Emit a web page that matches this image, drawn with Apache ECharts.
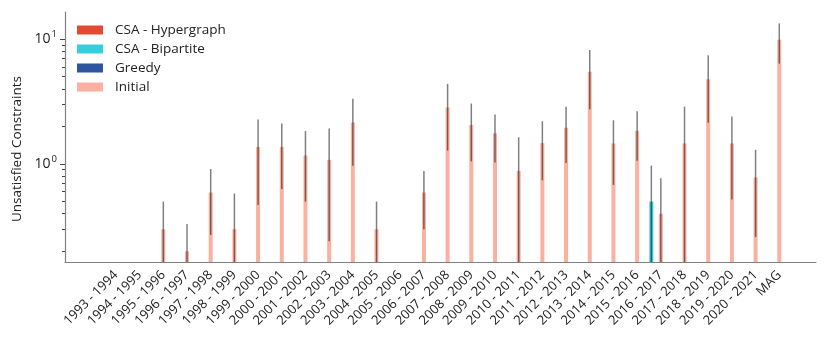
<!DOCTYPE html>
<html><head><meta charset="utf-8">
<script src="https://cdn.jsdelivr.net/npm/echarts@6/dist/echarts.min.js"></script>
<style>html,body{margin:0;padding:0;background:#fff}#c{width:830px;height:340px}</style>
</head><body><div id="c"></div>
<script>
const categories = ['1993 - 1994','1994 - 1995','1995 - 1996','1996 - 1997','1997 - 1998','1998 - 1999','1999 - 2000','2000 - 2001','2001 - 2002','2002 - 2003','2003 - 2004','2004 - 2005','2005 - 2006','2006 - 2007','2007 - 2008','2008 - 2009','2009 - 2010','2010 - 2011','2011 - 2012','2012 - 2013','2013 - 2014','2014 - 2015','2015 - 2016','2016 - 2017','2017 - 2018','2018 - 2019','2019 - 2020','2020 - 2021','MAG'];
const hypergraphMean = [0,0,0,0,0,0,0,0,0,0,0,0,0,0,0,0,0,0,0,0,0,0,0,0,0,0,0,0,0];
const hypergraphStd  = [0,0,0,0,0,0,0,0,0,0,0,0,0,0,0,0,0,0,0,0,0,0,0,0,0,0,0,0,0];
const bipartiteMean  = [0,0,0,0,0,0,0,0,0,0,0,0,0,0,0,0,0,0,0,0,0,0,0,0.5,0,0,0,0,0];
const bipartiteStd   = [0,0,0,0,0,0,0,0,0,0,0,0,0,0,0,0,0,0,0,0,0,0,0,0.47,0,0,0,0,0];
const greedyMean     = [0,0,0,0,0,0,0,0,0,0,0,0,0,0,0,0,0,0,0,0,0,0,0,0,0,0,0,0,0];
const greedyStd      = [0,0,0,0,0,0,0,0,0,0,0,0,0,0,0,0,0,0,0,0,0,0,0,0,0,0,0,0,0];
const initialMean = [0,0,0.3,0.2,0.59,0.3,1.37,1.37,1.17,1.08,2.15,0.3,0,0.59,2.83,2.05,1.76,0.88,1.47,1.95,5.47,1.46,1.85,0.4,1.46,4.78,1.46,0.78,9.87];
const initialStd  = [0,0,0.2,0.13,0.32,0.28,0.9,0.74,0.67,0.84,1.18,0.2,0,0.29,1.55,1.0,0.73,0.76,0.73,0.93,2.72,0.78,0.79,0.37,1.42,2.64,0.94,0.52,3.5];
const yMajorTicks = [1, 10];
const yMinorTicks = [0.2,0.3,0.4,0.5,0.6,0.7,0.8,0.9,2,3,4,5,6,7,8,9];
const Y_MIN = 0.164, Y_MAX = 16.5;

const seriesDefs = [
  {name:'CSA - Hypergraph', mean:hypergraphMean, std:hypergraphStd, color:'#E34A33', offset:-0.6},
  {name:'CSA - Bipartite',  mean:bipartiteMean,  std:bipartiteStd,  color:'#34CEDD', offset:-0.4},
  {name:'Greedy',           mean:greedyMean,     std:greedyStd,     color:'#2D55A0', offset:-0.2},
  {name:'Initial',          mean:initialMean,    std:initialStd,    color:'#FCB0A0', offset:0}
];

const series = [];
seriesDefs.forEach(d => {
  series.push({
    name: d.name, type: 'bar', barWidth: 4, barGap: '-100%',
    itemStyle: {color: d.color},
    data: d.mean.map((v,i) => v > 0 ? [i + d.offset, v] : [i + d.offset, null]),
    z: 2
  });
});
seriesDefs.forEach(d => {
  const errData = [];
  d.mean.forEach((v,i) => {
    if (v > 0) errData.push([i + d.offset, Math.max(v - d.std[i], Y_MIN), v + d.std[i]]);
  });
  series.push({
    type: 'custom', silent: true, z: 3,
    data: errData,
    renderItem: (params, api) => {
      const p1 = api.coord([api.value(0), api.value(2)]);
      const p2 = api.coord([api.value(0), api.value(1)]);
      return {type:'line', shape:{x1:p1[0], y1:p1[1], x2:p2[0], y2:p2[1]},
        style:{stroke:'rgba(0,0,0,0.5)', lineWidth:1.5}};
    }
  });
});

const chart = echarts.init(document.getElementById('c'), null, {renderer:'canvas'});
chart.setOption({
  animation: false,
  textStyle: {fontFamily: 'Open Sans'},
  grid: {left: 65, right: 14, top: 12, bottom: 78},
  legend: {
    orient: 'vertical', left: 72, top: 18, itemWidth: 26, itemHeight: 9, itemGap: 5,
    icon: 'rect', data: seriesDefs.map(d => d.name),
    textStyle: {fontSize: 13.5, color: '#222', fontFamily: 'Open Sans', padding: [0,0,0,7]}
  },
  xAxis: {
    type: 'value', min: -2.15, max: 29.55,
    splitLine: {show: false},
    axisLine: {onZero: false, lineStyle: {color: '#808080', width: 1.2}},
    axisTick: {show: false},
    axisLabel: {
      customValues: categories.map((c,i) => i),
      formatter: v => categories[Math.round(v)] || '',
      rotate: 45, fontSize: 13, color: '#222', margin: 11, padding: [11,0,0,0], fontFamily: 'Open Sans'
    }
  },
  yAxis: [{
    type: 'log', min: Y_MIN, max: Y_MAX, position: 'left',
    name: 'Unsatisfied Constraints', nameLocation: 'middle', nameGap: 41,
    nameTextStyle: {fontSize: 13.5, color: '#222', fontFamily: 'Open Sans', padding: [0,24,0,0]},
    splitLine: {show: false},
    axisLine: {show: true, onZero: false, lineStyle: {color: '#808080', width: 1.2}},
    axisTick: {show: true, length: 5, customValues: yMajorTicks, lineStyle: {color: '#444', width: 1}},
    axisLabel: {
      customValues: yMajorTicks, margin: 8,
      formatter: v => '10{sup|' + Math.round(Math.log10(v)) + '}',
      fontSize: 14, color: '#222', fontFamily: 'Open Sans',
      rich: {sup: {fontSize: 9.5, verticalAlign: 'top', color: '#222', fontFamily: 'Open Sans', padding: [0,0,9,1]}}
    },
    startValue: Y_MIN
  }, {
    type: 'log', min: Y_MIN, max: Y_MAX, position: 'left',
    splitLine: {show: false},
    axisLine: {show: false, onZero: false},
    axisTick: {show: true, length: 3, customValues: yMinorTicks, lineStyle: {color: '#444', width: 1}},
    axisLabel: {show: false}
  }],
  series: series
});
</script></body></html>
